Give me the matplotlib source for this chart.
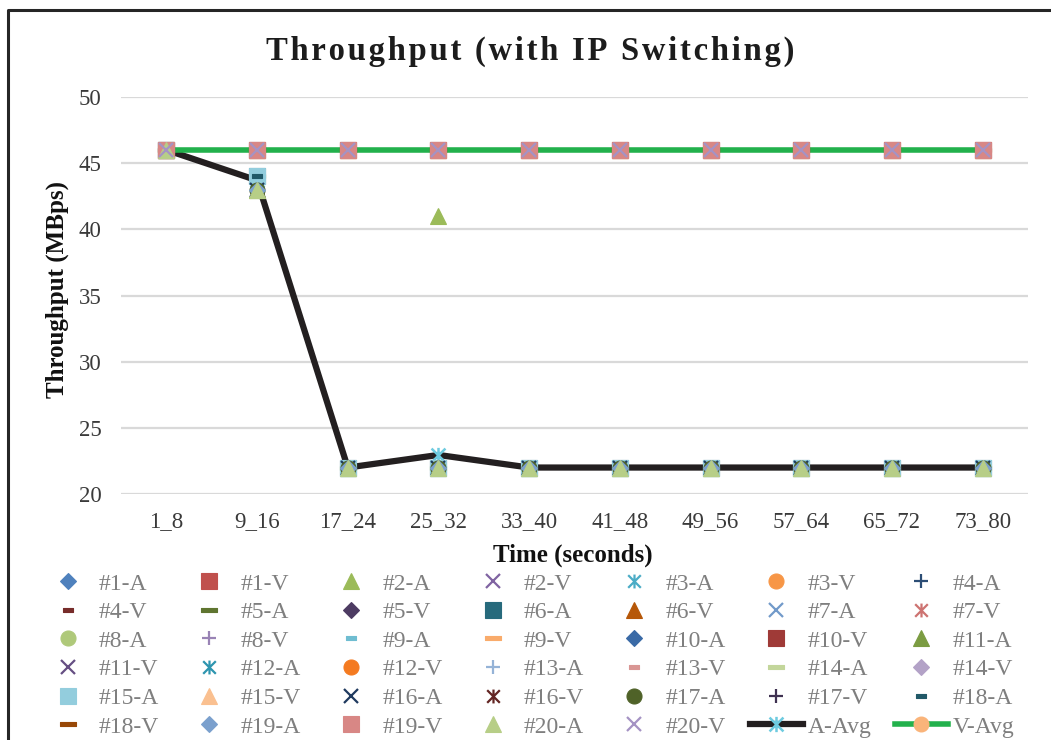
import matplotlib
matplotlib.use('Agg')
from matplotlib import pyplot as plt
from matplotlib.lines import Line2D
from matplotlib.path import Path

plt.rcParams['font.family'] = ['Liberation Serif', 'DejaVu Serif']

# time windows on the x axis
categories = ['1_8', '9_16', '17_24', '25_32', '33_40',
              '41_48', '49_56', '57_64', '65_72', '73_80']

# audio throughput (MBps) per node, rows are node #1 .. #20
a_thru = [
    [46, 44, 22, 22, 22, 22, 22, 22, 22, 22],
    [46, 43, 22, 41, 22, 22, 22, 22, 22, 22],
    [46, 44, 22, 22, 22, 22, 22, 22, 22, 22],
    [46, 44, 22, 22, 22, 22, 22, 22, 22, 22],
    [46, 44, 22, 22, 22, 22, 22, 22, 22, 22],
    [46, 44, 22, 22, 22, 22, 22, 22, 22, 22],
    [46, 44, 22, 22, 22, 22, 22, 22, 22, 22],
    [46, 44, 22, 22, 22, 22, 22, 22, 22, 22],
    [46, 44, 22, 22, 22, 22, 22, 22, 22, 22],
    [46, 44, 22, 22, 22, 22, 22, 22, 22, 22],
    [46, 43, 22, 22, 22, 22, 22, 22, 22, 22],
    [46, 44, 22, 22, 22, 22, 22, 22, 22, 22],
    [46, 44, 22, 22, 22, 22, 22, 22, 22, 22],
    [46, 44, 22, 22, 22, 22, 22, 22, 22, 22],
    [46, 44, 22, 22, 22, 22, 22, 22, 22, 22],
    [46, 43, 22, 22, 22, 22, 22, 22, 22, 22],
    [46, 43, 22, 22, 22, 22, 22, 22, 22, 22],
    [46, 44, 22, 22, 22, 22, 22, 22, 22, 22],
    [46, 43, 22, 22, 22, 22, 22, 22, 22, 22],
    [46, 43, 22, 22, 22, 22, 22, 22, 22, 22],
]

# video throughput (MBps) per node, rows are node #1 .. #20
v_thru = [
    [46, 46, 46, 46, 46, 46, 46, 46, 46, 46],
    [46, 46, 46, 46, 46, 46, 46, 46, 46, 46],
    [46, 46, 46, 46, 46, 46, 46, 46, 46, 46],
    [46, 46, 46, 46, 46, 46, 46, 46, 46, 46],
    [46, 46, 46, 46, 46, 46, 46, 46, 46, 46],
    [46, 46, 46, 46, 46, 46, 46, 46, 46, 46],
    [46, 46, 46, 46, 46, 46, 46, 46, 46, 46],
    [46, 46, 46, 46, 46, 46, 46, 46, 46, 46],
    [46, 46, 46, 46, 46, 46, 46, 46, 46, 46],
    [46, 46, 46, 46, 46, 46, 46, 46, 46, 46],
    [46, 46, 46, 46, 46, 46, 46, 46, 46, 46],
    [46, 46, 46, 46, 46, 46, 46, 46, 46, 46],
    [46, 46, 46, 46, 46, 46, 46, 46, 46, 46],
    [46, 46, 46, 46, 46, 46, 46, 46, 46, 46],
    [46, 46, 46, 46, 46, 46, 46, 46, 46, 46],
    [46, 46, 46, 46, 46, 46, 46, 46, 46, 46],
    [46, 46, 46, 46, 46, 46, 46, 46, 46, 46],
    [46, 46, 46, 46, 46, 46, 46, 46, 46, 46],
    [46, 46, 46, 46, 46, 46, 46, 46, 46, 46],
    [46, 46, 46, 46, 46, 46, 46, 46, 46, 46],
]

a_avg = [46, 43.7, 22, 22.95, 22, 22, 22, 22, 22, 22]
v_avg = [46, 46, 46, 46, 46, 46, 46, 46, 46, 46]

# series colours in order #1-A, #1-V, #2-A, #2-V ...
colors = ['#4F81BD', '#C0504D', '#9BBB59', '#8064A2', '#4BACC6', '#F79646',
          '#2C4D75', '#772C2A', '#5F7530', '#4D3B62', '#276A7C', '#B65708',
          '#729ACA', '#CD7371', '#AFC97A', '#9983B5', '#6FBDD1', '#F9AB6B',
          '#3A6AA6', '#9F3A37', '#7B9C42', '#664F83', '#2E95AF', '#F47A20',
          '#95B3D7', '#D99694', '#C3D69B', '#B3A2C7', '#93CDDD', '#FAC090',
          '#1F3A5F', '#632523', '#4F6228', '#3F3151', '#215968', '#984807',
          '#7BA0CD', '#D88785', '#B7CE87', '#A593C4']

# excel style markers: asterisk and the two dash shapes are custom paths
asterisk = Path([(-1, -1), (1, 1), (-1, 1), (1, -1), (0, -1.1), (0, 1.1)],
                [Path.MOVETO, Path.LINETO, Path.MOVETO, Path.LINETO,
                 Path.MOVETO, Path.LINETO])
short_dash = Path([(-1, -0.4), (1, -0.4), (1, 0.4), (-1, 0.4), (-1, -0.4)],
                  closed=True)
long_dash = Path([(-1, -0.3), (1, -0.3), (1, 0.3), (-1, 0.3), (-1, -0.3)],
                 closed=True)

# (marker, size, filled)
marker_cycle = [('D', 8.3, True), ('s', 11.5, True), ('^', 11, True),
                ('x', 9.5, False), (asterisk, 10, False), ('o', 10.8, True),
                ('+', 10.5, False), (short_dash, 7.5, True),
                (long_dash, 11.5, True)]

fig = plt.figure(figsize=(10.51, 7.40), dpi=100)
ax = fig.add_axes([121/1051, 1-494/740, 907/1051, 397/740])

x = list(range(len(categories)))

# the two averages go in first so the node markers sit on top of them
a_line, = ax.plot(x, a_avg, color='#231F20', lw=4.5, marker=asterisk, ms=11,
                  mec='#6ECBE0', mfc='none', mew=1.8, zorder=2,
                  solid_joinstyle='miter')
v_line, = ax.plot(x, v_avg, color='#22B14C', lw=4, marker='o', ms=10.5,
                  mec='#FAB47A', mfc='#FAB47A', zorder=2)

handles = []
labels = []
k = 0
for n in range(20):
    for kind, vals in (('A', a_thru[n]), ('V', v_thru[n])):
        mk, ms, filled = marker_cycle[k % 9]
        c = colors[k]
        if filled:
            h, = ax.plot(x, vals, ls='none', marker=mk, ms=ms, mfc=c, mec=c,
                         mew=0.8, zorder=3)
        else:
            h, = ax.plot(x, vals, ls='none', marker=mk, ms=ms, mfc='none',
                         mec=c, mew=1.6, zorder=3)
        handles.append(h)
        labels.append('#%d-%s' % (n + 1, kind))
        k += 1
handles += [a_line, v_line]
labels += ['A-Avg', 'V-Avg']

ax.set_xlim(-0.5, 9.5)
ax.set_ylim(20, 50)
ax.set_yticks([20, 25, 30, 35, 40, 45, 50])
ax.set_xticks(x)
ax.set_xticklabels(categories)
ax.yaxis.grid(True, color='#D9D9D9', lw=1.6)
ax.set_axisbelow(True)
for s in ax.spines.values():
    s.set_visible(False)
ax.tick_params(axis='both', length=0, labelsize=16.5, labelcolor='#3A3A3A')
ax.tick_params(axis='x', pad=12)
ax.tick_params(axis='y', pad=14)

# title with a little extra letter spacing
title = 'Throughput (with IP Switching)'
fig.text(530/1051, 1-60/740, '\u200a'.join(title), ha='center',
         va='baseline', fontsize=23.5, fontweight='bold', color='#1C1C1C')

fig.text(57/1051, 1-289/740, 'Throughput (MBps)', rotation=90, fontsize=18,
         fontweight='bold', ha='center', va='center', color='#111111')
fig.text(573/1051, 1-555/740, 'Time (seconds)', fontsize=18,
         fontweight='bold', ha='center', va='center', color='#111111')

# legend is filled row by row, matplotlib fills column by column
ncol, nrow = 7, 6
order = [r*ncol + c for c in range(ncol) for r in range(nrow)]
fig.legend([handles[i] for i in order], [labels[i] for i in order],
           ncol=ncol, loc='upper left', bbox_to_anchor=(41/1051, 1-573/740),
           frameon=False, fontsize=17, handlelength=2.25, handletextpad=0.2,
           columnspacing=1.0, labelspacing=0.3, borderpad=0, borderaxespad=0,
           labelcolor='#7F7F7F', numpoints=1)

# chart border (left and top edges)
fig.add_artist(Line2D([8/1051, 8/1051, 1], [0, 1-10/740, 1-10/740],
                      transform=fig.transFigure, color='#262626', lw=2.2))

fig.savefig('out.png', dpi=100)
